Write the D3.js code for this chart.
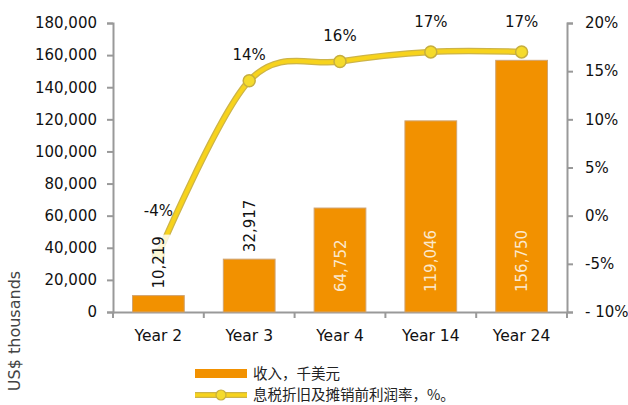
<!DOCTYPE html>
<html>
<head>
<meta charset="utf-8">
<script src="https://cdn.jsdelivr.net/npm/d3@7"></script>
<style>
  body { margin: 0; background: #fff; }
  text { font-family: "DejaVu Sans", Verdana, sans-serif; }
</style>
</head>
<body>
<script>
// data
const years = ['Year 2', 'Year 3', 'Year 4', 'Year 14', 'Year 24']
const revenue = [10219, 32917, 64752, 119046, 156750]
const ebitdaMargin = [-4, 14, 16, 17, 17]
const leftTicks = [0, 20000, 40000, 60000, 80000, 100000, 120000, 140000, 160000, 180000]
const rightTicks = [-10, -5, 0, 5, 10, 15, 20]
const rightTickLabels = ['- 10%', '-5%', '0%', '5%', '10%', '15%', '20%']
const legendLabels = ['收入，千美元', '息税折旧及摊销前利润率，%。']

const chart = () => {
    var width = 628,
        height = 405
    var plotL = 113, plotR = 567, plotT = 23, plotB = 312

    var svg = d3.select('body').append('svg')
        .attr('width', width)
        .attr('height', height)

    var x = d3.scaleBand()
        .domain(years)
        .range([plotL, plotR])
        .paddingInner(0.43)
        .paddingOuter(0.215)

    var yL = d3.scaleLinear().domain([0, 180000]).range([plotB, plotT])
    var yR = d3.scaleLinear().domain([-10, 20]).range([plotB, plotT])

    var axisColor = '#999'

    // left axis
    var gl = svg.append('g')
        .attr('transform', `translate(${plotL},0)`)
        .call(d3.axisLeft(yL).tickValues(leftTicks).tickFormat(d3.format(',')).tickSize(6).tickPadding(10))
    gl.select('.domain').attr('stroke', axisColor).attr('stroke-width', 2)
    gl.selectAll('.tick line').attr('stroke', axisColor).attr('stroke-width', 2)
    gl.selectAll('.tick text').attr('font-size', 15).attr('fill', '#111')

    // right axis
    var gr = svg.append('g')
        .attr('transform', `translate(${plotR},0)`)
        .call(d3.axisRight(yR).tickValues(rightTicks).tickFormat((d, i) => rightTickLabels[i]).tickSize(6).tickPadding(12))
    gr.select('.domain').attr('stroke', axisColor).attr('stroke-width', 2)
    gr.selectAll('.tick line').attr('stroke', axisColor).attr('stroke-width', 2)
    gr.selectAll('.tick text').attr('font-size', 15).attr('fill', '#111')

    // bottom axis: labels at centers, ticks at band edges
    var gb = svg.append('g')
        .attr('transform', `translate(0,${plotB})`)
        .call(d3.axisBottom(x).tickSize(0).tickPadding(18))
    gb.select('.domain').attr('stroke', axisColor).attr('stroke-width', 2)
    gb.selectAll('.tick text').attr('font-size', 15.5).attr('fill', '#111')
    var step = x.step()
    gb.selectAll('.edge')
        .data(d3.range(years.length + 1)).enter()
        .append('line')
        .attr('x1', i => plotL + i * step)
        .attr('x2', i => plotL + i * step)
        .attr('y1', 0)
        .attr('y2', 6)
        .attr('stroke', axisColor)
        .attr('stroke-width', 2)

    // bars
    svg.selectAll('rect.bar')
        .data(revenue).enter()
        .append('rect')
        .attr('class', 'bar')
        .attr('x', (d, i) => x(years[i]))
        .attr('y', d => yL(d))
        .attr('width', x.bandwidth())
        .attr('height', d => yL(0) - yL(d))
        .attr('fill', '#f29100')
        .attr('stroke', '#cfa472')
        .attr('stroke-width', 1)

    // margin line
    var cx = i => x(years[i]) + x.bandwidth() / 2
    var line = d3.line()
        .x((d, i) => cx(i))
        .y(d => yR(d))
        .curve(d3.curveCatmullRom.alpha(0))

    svg.append('path')
        .datum(ebitdaMargin)
        .attr('d', line)
        .attr('fill', 'none')
        .attr('stroke', '#cdb448')
        .attr('stroke-width', 6.5)
    svg.append('path')
        .datum(ebitdaMargin)
        .attr('d', line)
        .attr('fill', 'none')
        .attr('stroke', '#f7d31c')
        .attr('stroke-width', 4)

    svg.selectAll('circle.pt')
        .data(ebitdaMargin).enter()
        .append('circle')
        .attr('class', 'pt')
        .attr('cx', (d, i) => cx(i))
        .attr('cy', d => yR(d))
        .attr('r', 6)
        .attr('fill', '#f5db2c')
        .attr('stroke', '#c6ae3e')
        .attr('stroke-width', 1.5)

    // percent labels
    const pctLabelDy = [38, 21, 21, 25, 25]
    svg.selectAll('text.pct')
        .data(ebitdaMargin).enter()
        .append('text')
        .attr('class', 'pct')
        .attr('x', (d, i) => cx(i))
        .attr('y', (d, i) => yR(d) - pctLabelDy[i])
        .attr('text-anchor', 'middle')
        .attr('font-size', 15)
        .attr('fill', '#111')
        .text(d => d + '%')

    // revenue labels (rotated); small bars get labels above, others inside
    var fmt = d3.format(',')
    revenue.forEach((d, i) => {
        var outside = yL(0) - yL(d) < 70
        var g = svg.append('g')
        if (outside) {
            var y0 = yL(d) - 5
            g.append('rect')
                .attr('x', cx(i) - 12)
                .attr('y', y0 - 56)
                .attr('width', 24)
                .attr('height', 56)
                .attr('fill', '#fff')
                .attr('fill-opacity', 0.8)
            g.append('text')
                .attr('transform', `translate(${cx(i) + 5.5},${y0 - 2}) rotate(-90)`)
                .attr('font-size', 15)
                .attr('fill', '#111')
                .text(fmt(d))
        } else {
            g.append('text')
                .attr('transform', `translate(${cx(i) + 5.5},${yL(0) - 20}) rotate(-90)`)
                .attr('font-size', 15)
                .attr('fill', '#fbe8cc')
                .text(fmt(d))
        }
    })

    // y axis title
    svg.append('text')
        .attr('transform', 'translate(20,331) rotate(-90)')
        .attr('text-anchor', 'middle')
        .attr('font-size', 16)
        .attr('fill', '#444')
        .text('US$ thousands')

    // legend
    var lg = svg.append('g')
    lg.append('rect')
        .attr('x', 195).attr('y', 369)
        .attr('width', 52).attr('height', 9)
        .attr('fill', '#f29100')
    lg.append('line')
        .attr('x1', 195).attr('x2', 247).attr('y1', 395).attr('y2', 395)
        .attr('stroke', '#cdb448').attr('stroke-width', 6)
    lg.append('line')
        .attr('x1', 195).attr('x2', 247).attr('y1', 395).attr('y2', 395)
        .attr('stroke', '#f7d31c').attr('stroke-width', 3.5)
    lg.append('circle')
        .attr('cx', 221).attr('cy', 395).attr('r', 5)
        .attr('fill', '#f5db2c').attr('stroke', '#c6ae3e').attr('stroke-width', 1.2)
    lg.selectAll('text.leg')
        .data(legendLabels).enter()
        .append('text')
        .attr('class', 'leg')
        .attr('x', 253)
        .attr('y', (d, i) => 374 + i * 21)
        .attr('dy', '0.35em')
        .attr('font-size', 14.5)
        .attr('fill', '#222')
        .style('font-family', '"Noto Sans CJK SC", sans-serif')
        .text(d => d)
}

chart()
</script>
</body>
</html>
